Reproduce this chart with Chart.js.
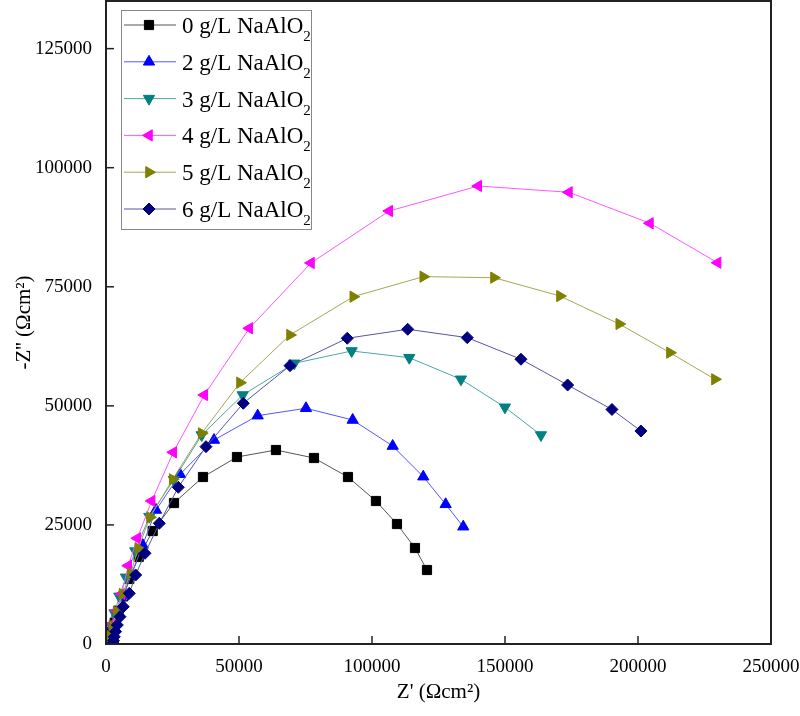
<!DOCTYPE html>
<html>
<head>
<meta charset="utf-8">
<script src="https://cdn.jsdelivr.net/npm/chart.js"></script>
<style>
  body { margin: 0; background: #fff; }
  canvas { display: block; }
</style>
</head>
<body>
<canvas id="eisChart" width="800" height="716"></canvas>
<script>
// Nyquist data, Z' and -Z'' in Ωcm²
const seriesNames = ['0 g/L NaAlO', '2 g/L NaAlO', '3 g/L NaAlO', '4 g/L NaAlO', '5 g/L NaAlO', '6 g/L NaAlO'];

const x0 = [600, 1300, 2200, 3300, 4700, 6500, 8760, 12290, 17550, 25560, 36460, 49240, 63900, 78190, 90970, 101490, 109390, 116150, 120670];
const y0 = [200, 1000, 2500, 4500, 7000, 10000, 13650, 18270, 23720, 29600, 35060, 39260, 40730, 39050, 35060, 30020, 25190, 20155, 15536];

const x2 = [600, 1400, 2600, 4200, 6500, 9500, 13790, 18800, 27820, 40600, 57020, 75180, 92730, 107770, 119270, 127690, 134310];
const y2 = [600, 1800, 3800, 6500, 10000, 14500, 20790, 28140, 35630, 42830, 47940, 49490, 47030, 41570, 35130, 29330, 24630];

const x3 = [500, 1100, 2000, 3200, 5000, 7500, 11000, 16280, 25500, 35970, 51390, 70780, 92360, 114010, 133440, 149980, 163520];
const y3 = [600, 1800, 3800, 6500, 10000, 14000, 19500, 26740, 34500, 43880, 52280, 58930, 61520, 60110, 55580, 49700, 43880];

const x4 = [600, 1400, 2500, 4000, 5900, 8380, 11770, 17180, 25300, 36950, 53870, 77060, 106490, 139950, 174040, 204490, 229940];
const y4 = [700, 2000, 4200, 7000, 10500, 16440, 22190, 30030, 40250, 52280, 66280, 80000, 90910, 96160, 94840, 88330, 80050];

const x5 = [500, 1300, 2400, 4000, 6200, 9280, 12140, 16540, 25070, 35970, 50370, 69170, 92960, 119270, 145850, 170660, 192950, 212010, 228920];
const y5 = [500, 1700, 3800, 6800, 10500, 14840, 20090, 26600, 34580, 44240, 54860, 64880, 72920, 77120, 76910, 73060, 67190, 61160, 55580];

const x6 = [2600, 2800, 3100, 3600, 4250, 5260, 6500, 8760, 11160, 14660, 20040, 27180, 37590, 51610, 69170, 90700, 113410, 135810, 156000, 173550, 190210, 201110];
const y6 = [200, 700, 1500, 2600, 3990, 5730, 7830, 10640, 14490, 19040, 25340, 32910, 41430, 50540, 58440, 64190, 66080, 64320, 59790, 54380, 49240, 44720];

const xTicks = [0, 50000, 100000, 150000, 200000, 250000];
const yTicks = [0, 25000, 50000, 75000, 100000, 125000];

const allX = [x0, x2, x3, x4, x5, x6];
const allY = [y0, y2, y3, y4, y5, y6];
const markerColors = ['#000000', '#0000ff', '#008080', '#ff00ff', '#808000', '#000080'];
const lineColors = ['#555555', '#5555ff', '#4da6a6', '#ff55ff', '#a6a655', '#5555a6'];
const shapes = ['rect', 'triangle', 'triangle', 'triangle', 'triangle', 'rectRot'];
const rotations = [0, 0, 180, 270, 90, 0];
const radii = [6.5, 6.5, 6.5, 6.5, 6.5, 6];

const serif = '"Liberation Serif", "Times New Roman", serif';

const datasets = seriesNames.map((name, i) => ({
    label: name,
    data: allX[i].map((v, k) => ({ x: v, y: allY[i][k] })),
    borderColor: lineColors[i],
    borderWidth: 1,
    backgroundColor: markerColors[i],
    pointBackgroundColor: markerColors[i],
    pointBorderColor: markerColors[i],
    pointBorderWidth: 1,
    pointStyle: shapes[i],
    pointRotation: rotations[i],
    pointRadius: radii[i],
    showLine: true,
    tension: 0,
    order: 5 - i
}));

// frame + inward ticks
const framePlugin = {
    id: 'frame',
    afterDatasetsDraw(chart) {
        const ctx = chart.ctx;
        const a = chart.chartArea;
        const xs = chart.scales.x;
        const ys = chart.scales.y;
        ctx.save();
        ctx.strokeStyle = '#222';
        ctx.lineWidth = 1.5;
        xTicks.forEach(t => {
            const px = xs.getPixelForValue(t);
            ctx.beginPath();
            ctx.moveTo(px, a.bottom);
            ctx.lineTo(px, a.bottom - 8);
            ctx.stroke();
        });
        yTicks.forEach(t => {
            const py = ys.getPixelForValue(t);
            ctx.beginPath();
            ctx.moveTo(a.left, py);
            ctx.lineTo(a.left + 8, py);
            ctx.stroke();
        });
        ctx.lineWidth = 2;
        ctx.strokeRect(a.left, a.top, a.right - a.left, a.bottom - a.top);
        ctx.restore();
    }
};

// legend with line sample, marker and subscript 2
const boxLegend = {
    id: 'boxLegend',
    afterDraw(chart) {
        const ctx = chart.ctx;
        const left = 121, top = 10, w = 190, h = 219;
        ctx.save();
        ctx.fillStyle = '#fff';
        ctx.fillRect(left, top, w, h);
        ctx.strokeStyle = '#888';
        ctx.lineWidth = 1;
        ctx.strokeRect(left + 0.5, top + 0.5, w, h);
        chart.data.datasets.forEach((ds, i) => {
            const cy = top + 15 + i * 36.8;
            ctx.strokeStyle = ds.borderColor;
            ctx.lineWidth = 1;
            ctx.beginPath();
            ctx.moveTo(left + 3, cy);
            ctx.lineTo(left + 55, cy);
            ctx.stroke();
            ctx.fillStyle = ds.pointBackgroundColor;
            ctx.strokeStyle = ds.pointBorderColor;
            Chart.helpers.drawPoint(ctx, {
                pointStyle: ds.pointStyle,
                rotation: ds.pointRotation,
                radius: ds.pointRadius,
                borderWidth: 1
            }, left + 28, cy);
            ctx.fillStyle = '#000';
            ctx.textBaseline = 'alphabetic';
            ctx.textAlign = 'left';
            ctx.font = '23px ' + serif;
            ctx.fillText(ds.label, left + 61, cy + 8);
            const tw = ctx.measureText(ds.label).width;
            ctx.font = '15px ' + serif;
            ctx.fillText('2', left + 61 + tw, cy + 16);
        });
        ctx.restore();
    }
};

const eisChart = new Chart(document.getElementById('eisChart').getContext('2d'), {
    type: 'scatter',
    data: { datasets: datasets },
    options: {
        responsive: false,
        animation: false,
        layout: { autoPadding: false, padding: { top: 1, right: 29, left: 0, bottom: 0 } },
        plugins: {
            legend: { display: false },
            tooltip: { enabled: false }
        },
        scales: {
            x: {
                type: 'linear',
                min: 0,
                max: 250000,
                afterBuildTicks(scale) { scale.ticks = xTicks.map(v => ({ value: v })); },
                afterFit(scale) {
                    scale.height = 72;
                    scale.paddingLeft = 0;
                    scale.paddingRight = 0;
                },
                grid: { display: false },
                border: { display: false },
                ticks: {
                    color: '#000',
                    padding: 4,
                    maxRotation: 0,
                    font: { family: serif, size: 19 },
                    callback: v => String(v)
                },
                title: {
                    display: true,
                    text: "Z' (Ωcm²)",
                    color: '#000',
                    font: { family: serif, size: 21 },
                    padding: { top: 0, bottom: 11 }
                }
            },
            y: {
                type: 'linear',
                min: 0,
                max: 135000,
                afterBuildTicks(scale) { scale.ticks = yTicks.map(v => ({ value: v })); },
                afterFit(scale) {
                    scale.width = 106;
                    scale.paddingTop = 0;
                    scale.paddingBottom = 0;
                },
                grid: { display: false },
                border: { display: false },
                ticks: {
                    color: '#000',
                    padding: 6,
                    font: { family: serif, size: 19 },
                    callback: v => String(v)
                },
                title: {
                    display: true,
                    text: "-Z'' (Ωcm²)",
                    color: '#000',
                    font: { family: serif, size: 21 },
                    padding: { top: 12, bottom: 0 }
                }
            }
        }
    },
    plugins: [framePlugin, boxLegend]
});
</script>
</body>
</html>
